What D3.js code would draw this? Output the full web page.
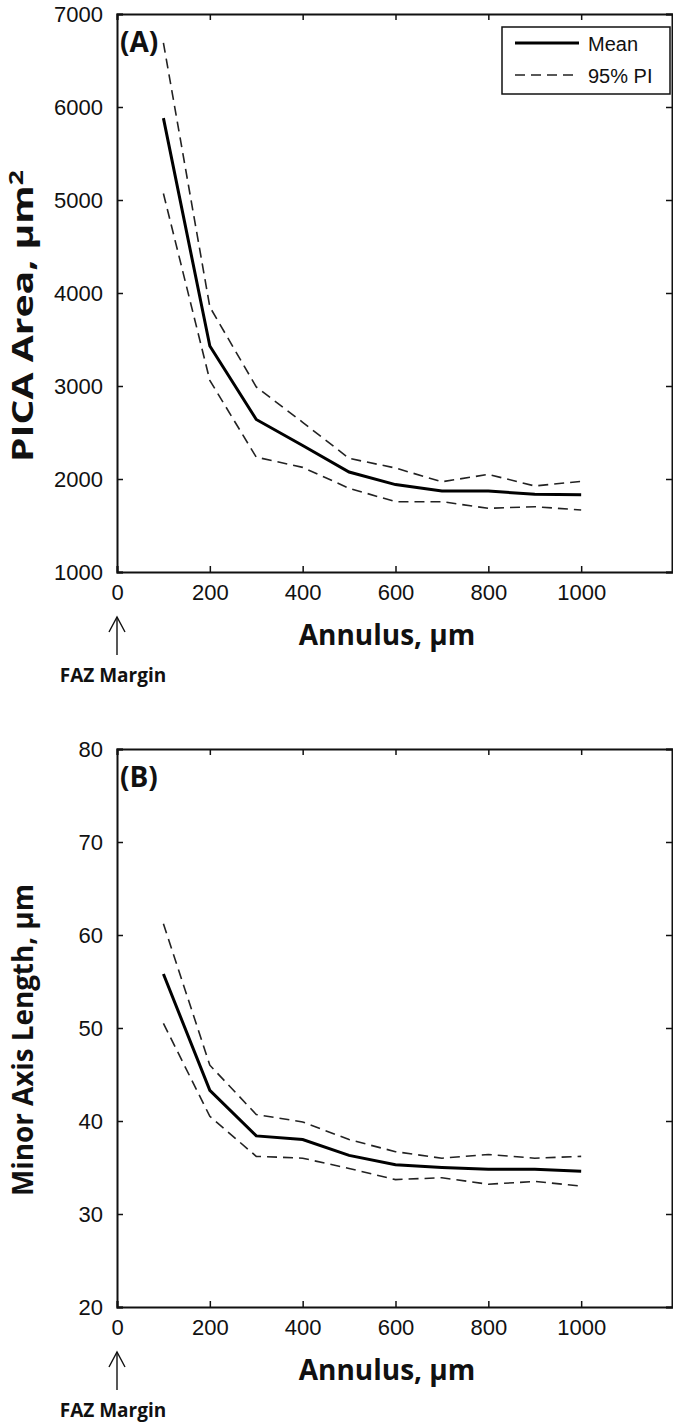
<!DOCTYPE html>
<html>
<head>
<meta charset="utf-8">
<script src="https://cdn.jsdelivr.net/npm/d3@7"></script>
<style>
body { margin: 0; background: #fff; }
svg text { fill: #111; }
.tick text { font-family: "Liberation Sans", Arial, sans-serif; font-size: 22px; }
.title { font-family: "Open Sans", "Noto Sans", sans-serif; font-weight: bold; }
</style>
</head>
<body>
<svg id="chart" width="673" height="1425"></svg>
<script>
var annulus = [100, 200, 300, 400, 500, 600, 700, 800, 900, 1000];

// panel A: PICA area
var areaMean  = [5880, 3430, 2640, 2360, 2075, 1940, 1870, 1870, 1835, 1830];
var areaUpper = [6690, 3850, 2990, 2610, 2222, 2118, 1970, 2050, 1925, 1975];
var areaLower = [5070, 3060, 2235, 2125, 1900, 1756, 1756, 1685, 1702, 1667];

// panel B: minor axis length
var axisMean  = [55.8, 43.3, 38.4, 38.0, 36.3, 35.3, 35.0, 34.8, 34.8, 34.6];
var axisUpper = [61.2, 46.0, 40.7, 39.9, 38.0, 36.7, 36.0, 36.4, 36.0, 36.2];
var axisLower = [50.5, 40.5, 36.2, 36.0, 34.9, 33.7, 33.9, 33.2, 33.5, 33.0];

var xTicks = [0, 200, 400, 600, 800, 1000, 1200];
var areaTicks = [1000, 2000, 3000, 4000, 5000, 6000, 7000];
var axisTicks = [20, 30, 40, 50, 60, 70, 80];

var svg = d3.select("#chart");
var left = 117, right = 674;
var x = d3.scaleLinear().domain([0, 1200]).range([left, right]);

function panel(top, bottom, yDomain, yTicks, mean, upper, lower, tag, ytitle, ytitleY, ytitleLen, legend) {
  var y = d3.scaleLinear().domain(yDomain).range([bottom, top]);
  var g = svg.append("g");

  var ax = g.append("g").attr("transform", "translate(0," + bottom + ")")
    .call(d3.axisBottom(x).tickValues(xTicks).tickSize(-6).tickPadding(24).tickFormat(d => d > 1000 ? "" : d));
  g.append("g").attr("transform", "translate(0," + top + ")")
    .call(d3.axisTop(x).tickValues(xTicks).tickSize(-6).tickFormat(""));
  g.append("g").attr("transform", "translate(" + left + ",0)")
    .call(d3.axisLeft(y).tickValues(yTicks).tickSize(-6).tickPadding(14).tickFormat(d3.format("d")));
  g.append("g").attr("transform", "translate(" + (right - 2) + ",0)")
    .call(d3.axisRight(y).tickValues(yTicks).tickSize(-6).tickFormat(""));
  g.selectAll(".domain").attr("stroke", "#111").attr("stroke-width", 2);
  g.selectAll(".tick line").attr("stroke", "#111").attr("stroke-width", 1.5);
  ax.selectAll("text").attr("dy", "0.2em");

  var line = d3.line().x((d, i) => x(annulus[i])).y(d => y(d));
  g.append("path").attr("d", line(upper)).attr("fill", "none").attr("stroke", "#222")
    .attr("stroke-width", 1.6).attr("stroke-dasharray", "10,6");
  g.append("path").attr("d", line(lower)).attr("fill", "none").attr("stroke", "#222")
    .attr("stroke-width", 1.6).attr("stroke-dasharray", "10,6");
  g.append("path").attr("d", line(mean)).attr("fill", "none").attr("stroke", "#000")
    .attr("stroke-width", 3);

  g.append("text").attr("class", "title").attr("x", left + 3).attr("y", top + 38)
    .attr("font-size", 28).text(tag);

  g.append("text").attr("class", "title").attr("font-size", 28)
    .attr("text-anchor", "middle")
    .attr("textLength", ytitleLen).attr("lengthAdjust", "spacingAndGlyphs")
    .attr("transform", "translate(33," + ytitleY + ") rotate(-90)")
    .html(ytitle);

  g.append("text").attr("class", "title").attr("font-size", 28)
    .attr("text-anchor", "middle").attr("x", 387).attr("y", bottom + 73)
    .text("Annulus,  µm");

  // FAZ margin arrow
  g.append("line").attr("x1", x(0)).attr("x2", x(0)).attr("y1", bottom + 83).attr("y2", bottom + 45)
    .attr("stroke", "#111").attr("stroke-width", 1.4);
  g.append("path").attr("d", "M" + (x(0) - 8) + "," + (bottom + 60) + "L" + x(0) + "," + (bottom + 45) + "L" + (x(0) + 8) + "," + (bottom + 60))
    .attr("fill", "none").attr("stroke", "#111").attr("stroke-width", 1.4);
  g.append("text").attr("class", "title").attr("font-size", 19)
    .attr("text-anchor", "middle").attr("x", 113).attr("y", bottom + 110)
    .text("FAZ Margin");

  if (legend) {
    var lg = g.append("g");
    lg.append("rect").attr("x", 502).attr("y", 27).attr("width", 168).attr("height", 67)
      .attr("fill", "#fff").attr("stroke", "#111").attr("stroke-width", 1.5);
    lg.append("line").attr("x1", 515).attr("x2", 579).attr("y1", 43).attr("y2", 43)
      .attr("stroke", "#000").attr("stroke-width", 3);
    lg.append("line").attr("x1", 515).attr("x2", 579).attr("y1", 75).attr("y2", 75)
      .attr("stroke", "#222").attr("stroke-width", 1.6).attr("stroke-dasharray", "10,6");
    lg.append("text").attr("x", 588).attr("y", 51).attr("font-family", "Liberation Sans, Arial, sans-serif")
      .attr("font-size", 20).text("Mean");
    lg.append("text").attr("x", 588).attr("y", 83).attr("font-family", "Liberation Sans, Arial, sans-serif")
      .attr("font-size", 20).text("95% PI");
  }
}

panel(14, 572, [1000, 7000], areaTicks, areaMean, areaUpper, areaLower, "(A)",
  'PICA Area, µm<tspan dy="-10" font-size="19">2</tspan>', 316, 292, true);
panel(749, 1307, [20, 80], axisTicks, axisMean, axisUpper, axisLower, "(B)",
  "Minor Axis Length, µm", 1040, 312, false);
</script>
</body>
</html>
